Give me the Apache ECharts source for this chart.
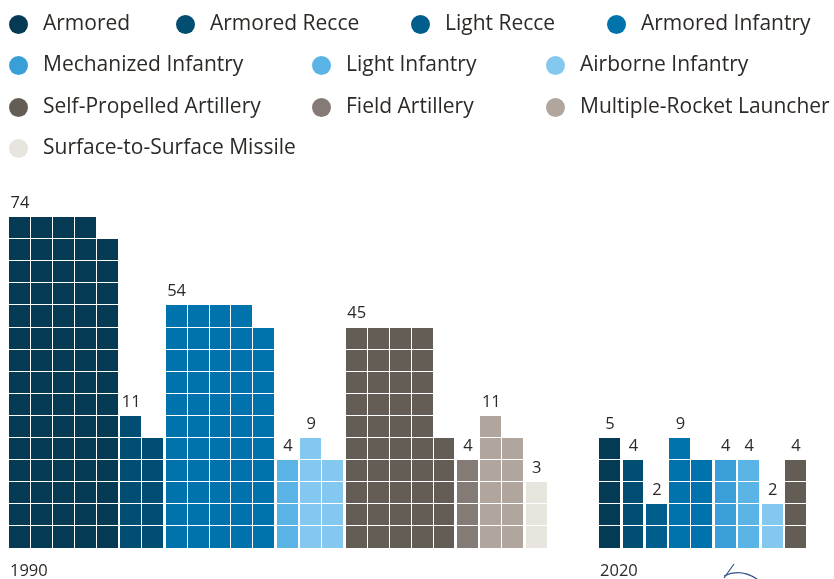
<!DOCTYPE html>
<html>
<head>
<meta charset="utf-8">
<script src="https://cdn.jsdelivr.net/npm/echarts@6/dist/echarts.min.js"></script>
<style>
html,body{margin:0;padding:0;background:#fff;}
#chart{width:834px;height:579px;}
</style>
</head>
<body>
<div id="chart"></div>
<script>
// ---- data ----
const years = ['1990', '2020'];
const categories = ['Armored', 'Armored Recce', 'Light Recce', 'Armored Infantry',
  'Mechanized Infantry', 'Light Infantry', 'Airborne Infantry',
  'Self-Propelled Artillery', 'Field Artillery', 'Multiple-Rocket Launcher',
  'Surface-to-Surface Missile'];
const values1990 = [74, 11, 0, 54, 0, 4, 9, 45, 4, 11, 3];
const values2020 = [5, 4, 2, 9, 4, 4, 2, 4, 0, 0, 0];
// cells per column (stack height before wrapping to next column)
const stackRows1990 = [15, 6, 0, 11, 0, 4, 5, 10, 4, 6, 3];
const stackRows2020 = [5, 4, 2, 5, 4, 4, 2, 4, 0, 0, 0];

// ---- styles ----
const colors = ['#053a55', '#024d72', '#005e8c', '#0073ad', '#3a9fd8', '#5ab4e5',
  '#84c8ef', '#635d56', '#847b76', '#b0a69e', '#e8e5df'];
const textColor = '#2d2926';
const FONT = '"Open Sans", "Noto Sans", sans-serif';
const groupGap = 0.068;
const yearGap = 2.27;

// ---- build cells ----
const cells = categories.map(() => []);
const labels = [];
const yearStarts = [];
let cursor = 0;
[[values1990, stackRows1990], [values2020, stackRows2020]].forEach(([vals, rows], yi) => {
  yearStarts.push([cursor, years[yi]]);
  vals.forEach((v, ci) => {
    if (!v) return;
    let remaining = v, col = 0, firstH = 0;
    while (remaining > 0) {
      const k = Math.min(rows[ci], remaining);
      if (col === 0) firstH = k;
      for (let r = 0; r < k; r++) cells[ci].push([cursor + col, r]);
      remaining -= k;
      col++;
    }
    labels.push([cursor + 0.5, firstH, v]);
    cursor += col + groupGap;
  });
  cursor += yearGap;
});

function cellRender(params, api) {
  const x = api.value(0), y = api.value(1);
  const a = api.coord([x, y + 1]);
  const b = api.coord([x + 1, y]);
  const l = Math.round(a[0]), r = Math.round(b[0]) - 1;
  const t = Math.round(a[1]) + 1, btm = Math.round(b[1]);
  return { type: 'rect', shape: { x: l, y: t, width: r - l, height: btm - t },
    style: { fill: api.visual('color') } };
}

const series = categories.map((name, i) => ({
  name: name, type: 'custom', renderItem: cellRender,
  itemStyle: { color: colors[i] }, data: cells[i], encode: { x: 0, y: 1 },
  silent: true
}));
series.push({
  type: 'custom', name: 'labels', silent: true, data: labels, encode: { x: 0, y: 1 },
  renderItem: function (params, api) {
    const p = api.coord([api.value(0), api.value(1)]);
    return { type: 'text', style: { text: String(api.value(2)), x: p[0], y: p[1] - 13,
      align: 'center', verticalAlign: 'middle', fontSize: 16.5, fontFamily: FONT, fill: textColor } };
  }
});
series.push({
  type: 'custom', name: 'years', silent: true, data: yearStarts.map(d => [d[0], 0]),
  encode: { x: 0, y: 1 },
  renderItem: function (params, api) {
    const p = api.coord([api.value(0), 0]);
    const yr = yearStarts[params.dataIndex][1];
    return { type: 'text', style: { text: yr, x: p[0] + 1, y: p[1] + 24,
      align: 'left', verticalAlign: 'middle', fontSize: 16.5, fontFamily: FONT, fill: textColor } };
  }
});

// legend placement (circle left x, circle center y)
const legendPos = [[9, 23.5], [176, 23.5], [411, 23.5], [607, 23.5],
  [9, 64.5], [312, 64.5], [546, 64.5],
  [9, 106.5], [312, 106.5], [546, 106.5],
  [9, 147.5]];
const legends = categories.map((name, i) => ({
  data: [name], left: legendPos[i][0], top: legendPos[i][1] - 9.5, padding: 0,
  icon: 'circle', itemWidth: 19, itemHeight: 19, selectedMode: false,
  textStyle: { fontSize: 21, fontFamily: FONT, color: textColor, lineHeight: 19, padding: [0, 0, 0, 10] }
}));

const chart = echarts.init(document.getElementById('chart'), null, { renderer: 'canvas' });
chart.setOption({
  animation: false,
  backgroundColor: '#ffffff',
  legend: legends,
  grid: { left: 9, top: 105.5, width: 812.15, height: 442 },
  xAxis: { type: 'value', min: 0, max: 37, show: false },
  yAxis: { type: 'value', min: 0, max: 20, show: false },
  series: series,
  graphic: [
    { type: 'line', silent: true, shape: { x1: 734, y1: 564, x2: 724, y2: 578 },
      style: { stroke: '#2f5188', lineWidth: 1.2 } },
    { type: 'bezierCurve', silent: true,
      shape: { x1: 724, y1: 576, cpx1: 740, cpy1: 568, x2: 757, y2: 579 },
      style: { stroke: '#2f5188', lineWidth: 1.2, fill: 'none' } }
  ]
});
</script>
</body>
</html>
